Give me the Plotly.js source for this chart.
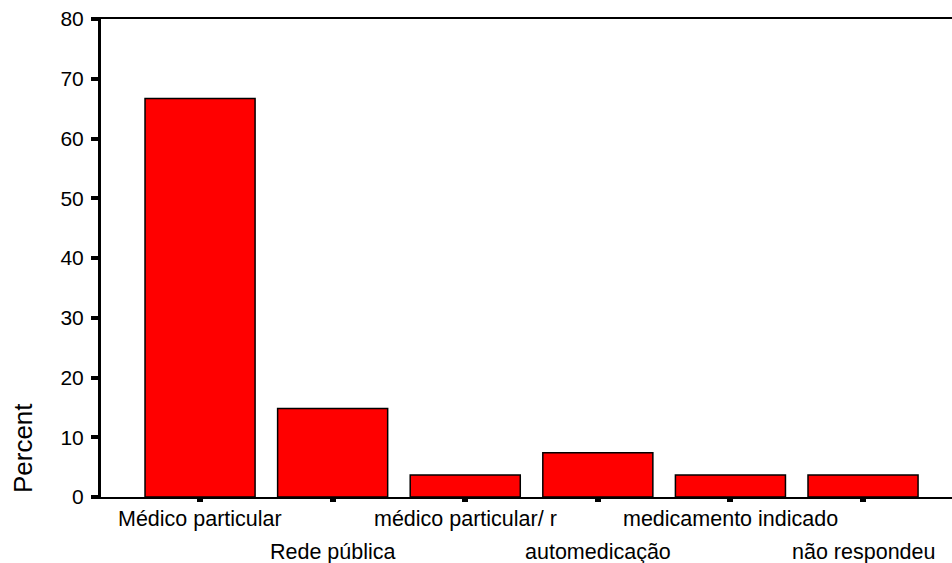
<!DOCTYPE html>
<html>
<head>
<meta charset="utf-8">
<script src="https://cdn.plot.ly/plotly-3.0.1.min.js"></script>
<style>html,body{margin:0;padding:0;background:#fff;}</style>
</head>
<body>
<div id="chart" style="width:952px;height:563px;"></div>
<script>
// Data
var categories = ["Médico particular", "Rede pública", "médico particular/ r", "automedicação", "medicamento indicado", "não respondeu"];
var percentValues = [66.7, 14.8, 3.7, 7.4, 3.7, 3.7];
var yTickValues = [0, 10, 20, 30, 40, 50, 60, 70, 80];
var labelRow = [0, 1, 0, 1, 0, 1]; // staggered tick labels: 0 = first row, 1 = second row

var FONT = "Liberation Sans, Arial, Helvetica, sans-serif";

var trace = {
  type: "bar",
  x: categories,
  y: percentValues,
  marker: { color: "#FF0000", line: { color: "#000000", width: 1.5 } },
  hoverinfo: "x+y"
};

var rowY = [-0.046, -0.115];
var annotations = categories.map(function (c, i) {
  return {
    x: c, xref: "x",
    y: rowY[labelRow[i]], yref: "paper",
    text: c, showarrow: false,
    xanchor: "center", yanchor: "middle",
    font: { family: FONT, size: 21.5, color: "#000" }
  };
});
annotations.push({
  x: -0.0917, xref: "paper", y: 0.004, yref: "paper",
  text: "Percent", showarrow: false, textangle: -90,
  xanchor: "center", yanchor: "bottom",
  font: { family: FONT, size: 26, color: "#000" }
});

var layout = {
  width: 952, height: 563,
  margin: { l: 101, r: 0, t: 19, b: 66, pad: 0 },
  paper_bgcolor: "#fff", plot_bgcolor: "#fff",
  showlegend: false,
  bargap: 0.17,
  font: { family: FONT, size: 20, color: "#000" },
  xaxis: {
    type: "category",
    range: [-0.747, 5.671],
    showline: true, linecolor: "#000", linewidth: 2, mirror: true,
    ticks: "outside", ticklen: 3, tickwidth: 6, tickcolor: "#000",
    showticklabels: false,
    showgrid: false, zeroline: false, fixedrange: true
  },
  yaxis: {
    range: [0, 80],
    tickvals: yTickValues,
    ticktext: yTickValues.map(String),
    showline: true, linecolor: "#000", linewidth: 3,
    ticks: "outside", ticklen: 7, tickwidth: 4, tickcolor: "#000",
    ticklabelstandoff: 3,
    tickfont: { family: FONT, size: 21, color: "#000" },
    showgrid: false, zeroline: false, fixedrange: true
  },
  annotations: annotations
};

Plotly.newPlot("chart", [trace], layout, { displayModeBar: false, staticPlot: true });
</script>
</body>
</html>
